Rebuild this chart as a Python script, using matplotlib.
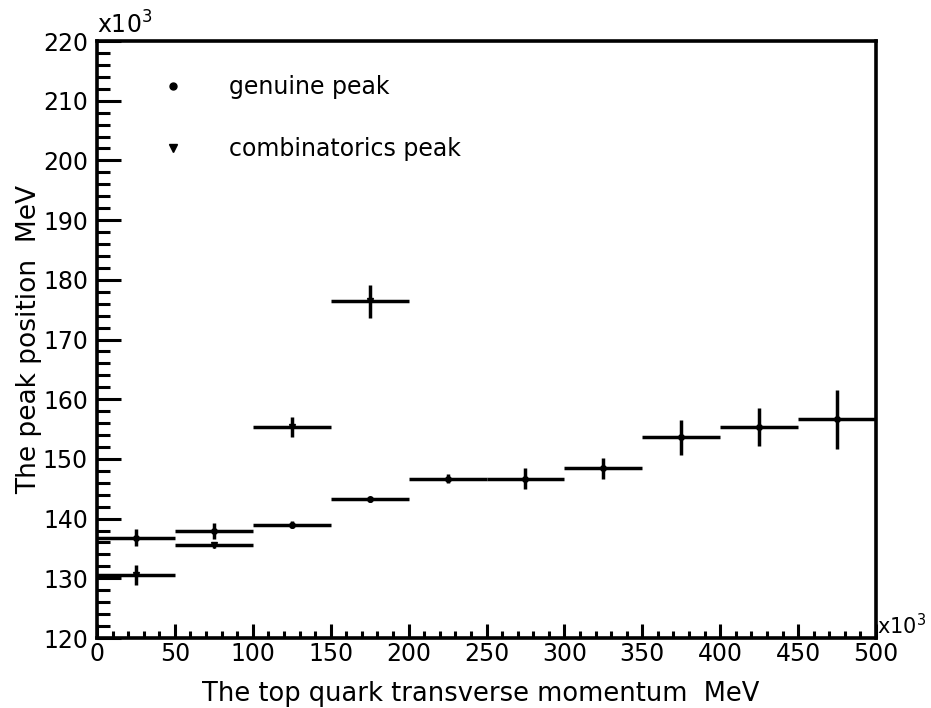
import matplotlib
matplotlib.use("Agg")
import matplotlib.pyplot as plt
from matplotlib.ticker import MultipleLocator
from matplotlib.lines import Line2D

# bin centres of the top quark pT (x10^3 MeV), bin half width 25
pt_centers = [25, 75, 125, 175, 225, 275, 325, 375, 425, 475]
pt_halfwidth = [25] * 10

# genuine peak position (x10^3 MeV) and errors
genuine_peak = [136.8, 137.9, 139.0, 143.2, 146.7, 146.7, 148.4, 153.6, 155.4, 156.6]
genuine_err = [1.4, 1.4, 0.6, 0.5, 0.7, 1.7, 1.7, 2.9, 3.2, 4.9]

# combinatorics peak, only the first four bins
comb_centers = [25, 75, 125, 175]
comb_halfwidth = [25, 25, 25, 25]
comb_peak = [130.6, 135.6, 155.4, 176.4]
comb_err = [1.7, 0.5, 1.7, 2.8]

fig = plt.figure(figsize=(9.31, 7.08), dpi=100)
ax = fig.add_axes([97 / 931, 1 - 638 / 708, 779 / 931, 597 / 708])

ax.errorbar(pt_centers, genuine_peak, xerr=pt_halfwidth, yerr=genuine_err,
            fmt='o', color='black', ms=4, elinewidth=2.5, capsize=0)
ax.errorbar(comb_centers, comb_peak, xerr=comb_halfwidth, yerr=comb_err,
            fmt='v', color='black', ms=5, elinewidth=2.5, capsize=0)

ax.set_xlim(0, 500)
ax.set_ylim(120, 220)

# ROOT style axes: thick frame, ticks inside, only on bottom and left
for sp in ax.spines.values():
    sp.set_linewidth(2.6)
ax.xaxis.set_major_locator(MultipleLocator(50))
ax.xaxis.set_minor_locator(MultipleLocator(10))
ax.yaxis.set_major_locator(MultipleLocator(10))
ax.yaxis.set_minor_locator(MultipleLocator(2))
ax.tick_params(axis='both', which='both', direction='in', top=False, right=False,
               width=2.2, labelsize=17)
ax.tick_params(axis='x', which='major', length=10, pad=3)
ax.tick_params(axis='x', which='minor', length=5.4)
ax.tick_params(axis='y', which='major', length=17, pad=6.5)
ax.tick_params(axis='y', which='minor', length=9.4)

ax.set_xlabel('The top quark transverse momentum  MeV', fontsize=18.5)
ax.set_ylabel('The peak position  MeV', fontsize=19)
ax.xaxis.set_label_coords(0.492, -0.072)
ax.yaxis.set_label_coords(-0.0706, 0.5)

ax.text(0.0, 1.004, r'x10$^{3}$', transform=ax.transAxes, fontsize=17,
        ha='left', va='bottom')
ax.text(1.001, 0.0, r'x10$^{3}$', transform=ax.transAxes, fontsize=15,
        ha='left', va='bottom')

# legend shows the markers only
handles = [Line2D([], [], ls='none', marker='o', ms=5, color='black'),
           Line2D([], [], ls='none', marker='v', ms=6, color='black')]
ax.legend(handles, ['genuine peak', 'combinatorics peak'],
          loc='upper left', bbox_to_anchor=(161 / 931, 1 - 75 / 708),
          bbox_transform=fig.transFigure, frameon=False, fontsize=17,
          handlelength=1.0, handletextpad=1.86, labelspacing=1.63,
          borderpad=0, borderaxespad=0)

fig.savefig('out.png', dpi=100)
